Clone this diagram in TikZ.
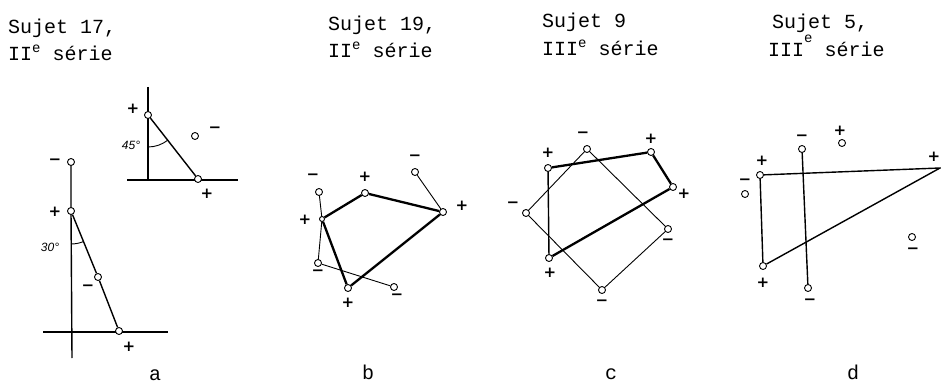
\documentclass[tikz,border=0pt]{standalone}
\usepackage{fontspec}
\newfontfamily\ttlfont{Liberation Mono}
\newfontfamily\sgnfont{DejaVu Sans}
\newfontfamily\angfont{Liberation Sans}
\begin{document}
\begin{tikzpicture}[x=1pt,y=-1pt,
  pole/.style={circle,draw,fill=white,inner sep=0pt,minimum size=7pt,line width=0.9pt},
  wirethin/.style={line width=0.9pt},
  wiremed/.style={line width=1.4pt},
  wirethick/.style={line width=2.3pt},
  sgn/.style={font=\sgnfont\bfseries\fontsize{15}{15}\selectfont,inner sep=0pt},
  ang/.style={font=\angfont\itshape\fontsize{12}{12}\selectfont,inner sep=0pt},
  ttl/.style={font=\ttlfont\fontsize{20}{20}\selectfont,inner sep=0pt,anchor=base west},
  lbl/.style={font=\ttlfont\fontsize{20}{20}\selectfont,inner sep=0pt}]
\newcommand{\supe}{\raisebox{0.42em}{\fontsize{14}{14}\selectfont e}}
\useasboundingbox (0,0) rectangle (941,387);
% ---------- titles ----------
\node[ttl] (ta1) at (8,34) {Sujet 17,};
\node[ttl] (ta2) at (8,61) {II\supe{} série};
\node[ttl] (tb1) at (328,31) {Sujet 19,};
\node[ttl] (tb2) at (328,58) {II\supe{} série};
\node[ttl] (tc1) at (542,28) {Sujet 9};
\node[ttl] (tc2) at (542,56) {III\supe{} série};
\node[ttl] (td1) at (772,29) {Sujet 5,};
\node[ttl] (td2) at (768,57) {III\raisebox{0.7em}{\fontsize{14}{14}\selectfont e} série};
% ---------- panel a, upper ----------
\coordinate (ua) at (148,87);
\coordinate (ub) at (148,180);
\coordinate (uc) at (127,180);
\coordinate (ud) at (238,180);
\draw[wiremed] (ua) -- (ub);
\draw[wiremed] (uc) -- (ud);
\node[pole] (t1) at (148,115) {};
\node[pole] (t2) at (198,179) {};
\draw[wiremed] (t1) -- (t2);
\draw[wirethin] ([shift={(90:32)}]t1.center) arc[start angle=90,end angle=51,radius=32];
\node[pole] (t3) at (195,136) {};
\node[sgn] (st3) at (215,130) {−};
\node[sgn] (st1) at (133,109) {+};
\node[sgn] (st2) at (207,194) {+};
\node[ang] (a45) at (131,145) {45°};
% ---------- panel a, lower ----------
\coordinate (la) at (72,358);
\coordinate (lb) at (43,332);
\coordinate (lc) at (168,332);
\node[pole] (l1) at (71,162) {};
\node[pole] (l2) at (71,211) {};
\node[pole] (l3) at (98,277) {};
\draw[wiremed] (l1) -- (l2) -- (la);
\draw[wiremed] (lb) -- (lc);
\node[pole] (l4) at (119,331) {};
\draw[wiremed] (l2) -- (l3) -- (l4);
\draw[wirethin] ([shift={(90:33)}]l2.center) arc[start angle=90,end angle=68,radius=33];
\node[sgn] (sl1) at (55,162) {−};
\node[sgn] (sl2) at (55,212) {+};
\node[sgn] (sl3) at (88,288) {−};
\node[sgn] (sl4) at (129,347) {+};
\node[ang] (a30) at (50,247) {30°};
\node[lbl] (la_) at (155,375) {a};
% ---------- panel b ----------
\node[pole] (b1) at (319,192) {};
\node[pole,minimum size=5pt] (b2) at (322,219) {};
\node[pole] (b3) at (318,263) {};
\node[pole] (b4) at (365,193) {};
\node[pole] (b5) at (415,172) {};
\node[pole] (b6) at (443,212) {};
\node[pole] (b7) at (348,288) {};
\node[pole] (b8) at (394,287) {};
\draw[wirethin] (b1) -- (b2) -- (b3);
\draw[wirethin] (b5) -- (b6);
\draw[wirethin] (b3) -- (b8);
\draw[wirethick] (b2) -- (b4) -- (b6) -- (b7) -- (b2);
\node[sgn] (sb1) at (313,177) {−};
\node[sgn] (sb2) at (305,220) {+};
\node[sgn] (sb3) at (318,273) {−};
\node[sgn] (sb4) at (365,177) {+};
\node[sgn] (sb5) at (415,158) {−};
\node[sgn] (sb6) at (462,206) {+};
\node[sgn] (sb7) at (348,303) {+};
\node[sgn] (sb8) at (397,297) {−};
\node[lbl] (lb_) at (368,372) {b};
% ---------- panel c ----------
\node[pole] (cA) at (548,168) {};
\node[pole] (cB) at (587,149) {};
\node[pole] (cC) at (651,152) {};
\node[pole] (cD) at (673,187) {};
\node[pole] (cE) at (526,213) {};
\node[pole] (cF) at (668,229) {};
\node[pole] (cG) at (549,258) {};
\node[pole] (cH) at (602,290) {};
\draw[wirethin] (cB) -- (cE) -- (cH) -- (cF) -- (cB);
\draw[wiremed] (cA) -- (cG);
\draw[wirethick] (cA) -- (cC) -- (cD) -- (cG);
\node[sgn] (scA) at (548,153) {+};
\node[sgn] (scB) at (583,135) {−};
\node[sgn] (scC) at (651,139) {+};
\node[sgn] (scD) at (684,194) {+};
\node[sgn] (scE) at (513,205) {−};
\node[sgn] (scF) at (668,242) {−};
\node[sgn] (scG) at (550,273) {+};
\node[sgn] (scH) at (602,303) {−};
\node[lbl] (lc_) at (611,374) {c};
% ---------- panel d ----------
\node[pole] (dP) at (760,175) {};
\node[pole] (dQ1) at (802,149) {};
\node[pole] (dQ2) at (808,288) {};
\node[pole] (dR) at (763,266) {};
\coordinate (dS) at (940,168);
\draw[wiremed] (dP) -- (dS) -- (dR) -- (dP);
\draw[wiremed] (dQ1) -- (dQ2);
\node[pole] (dO1) at (745,194) {};
\node[pole] (dO2) at (842,143) {};
\node[pole] (dO3) at (912,237) {};
\node[sgn] (sdO1) at (745,182) {−};
\node[sgn] (sdO2) at (840,131) {+};
\node[sgn] (sdO3) at (913,251) {−};
\node[sgn] (sdP) at (762,161) {+};
\node[sgn] (sdQ1) at (802,138) {−};
\node[sgn] (sdQ2) at (810,302) {−};
\node[sgn] (sdR) at (763,283) {+};
\node[sgn] (sdS) at (934,157) {+};
\node[lbl] (ld_) at (853,372) {d};
\end{tikzpicture}
\end{document}
